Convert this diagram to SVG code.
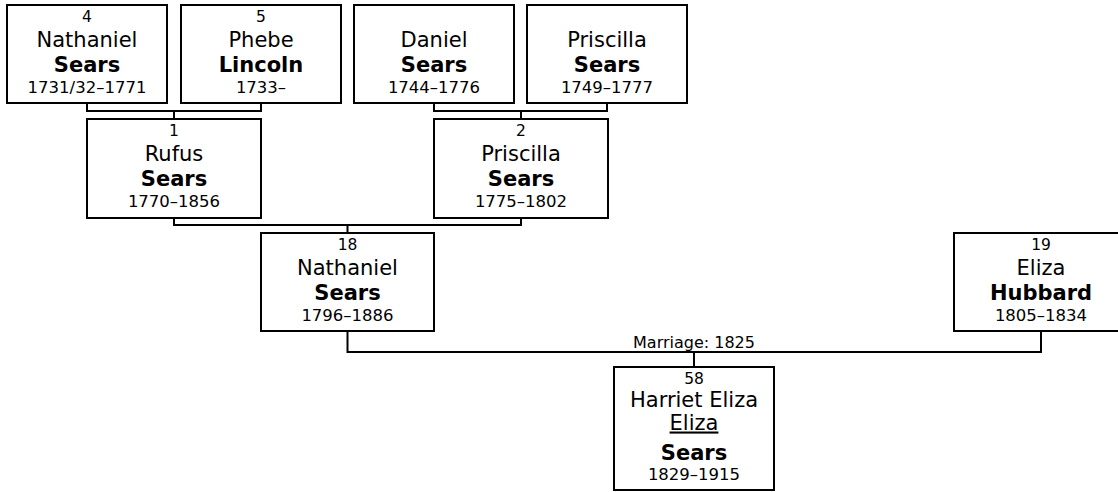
<svg xmlns="http://www.w3.org/2000/svg" width="1118" height="492" viewBox="0 0 1118 492">
<style>
  .box { fill: #fff; stroke: #000; stroke-width: 2; }
  .conn { fill: none; stroke: #000; stroke-width: 2; }
  text { font-family: "DejaVu Sans", Verdana, sans-serif; fill: #000; text-anchor: middle; }
  .num { font-size: 15.5px; }
  .given { font-size: 21px; }
  .sur { font-size: 21px; font-weight: bold; }
  .dates { font-size: 16.5px; }
  .lbl { font-size: 16px; }
</style>
<rect width="1118" height="492" fill="#fff"/>
<g id="connectors">
  <path class="conn" d="M87,103 V111 H261 V103 M174,111 V119"/>
  <path class="conn" d="M434,103 V111 H607 V103 M521,111 V119"/>
  <path class="conn" d="M174,218 V225 H521 V218 M347.5,225 V233"/>
  <path class="conn" d="M347.5,331 V352 H1041 V331 M694,352 V367"/>
  <text class="lbl" x="694" y="348">Marriage: 1825</text>
</g>
<g id="p4">
  <rect class="box" x="7" y="5" width="160" height="98"/>
  <text class="num" x="87" y="22">4</text>
  <text class="given" x="87" y="46.5">Nathaniel</text>
  <text class="sur" x="87" y="72">Sears</text>
  <text class="dates" x="87" y="92.5">1731/32–1771</text>
</g>
<g id="p5">
  <rect class="box" x="181" y="5" width="160" height="98"/>
  <text class="num" x="261" y="22">5</text>
  <text class="given" x="261" y="46.5">Phebe</text>
  <text class="sur" x="261" y="72">Lincoln</text>
  <text class="dates" x="261" y="92.5">1733–</text>
</g>
<g id="pDaniel">
  <rect class="box" x="354" y="5" width="160" height="98"/>
  <text class="given" x="434" y="46.5">Daniel</text>
  <text class="sur" x="434" y="72">Sears</text>
  <text class="dates" x="434" y="92.5">1744–1776</text>
</g>
<g id="pPriscillaSr">
  <rect class="box" x="527" y="5" width="160" height="98"/>
  <text class="given" x="607" y="46.5">Priscilla</text>
  <text class="sur" x="607" y="72">Sears</text>
  <text class="dates" x="607" y="92.5">1749–1777</text>
</g>
<g id="p1">
  <rect class="box" x="87" y="119" width="174" height="99"/>
  <text class="num" x="174" y="136">1</text>
  <text class="given" x="174" y="160.5">Rufus</text>
  <text class="sur" x="174" y="186">Sears</text>
  <text class="dates" x="174" y="206.5">1770–1856</text>
</g>
<g id="p2">
  <rect class="box" x="434" y="119" width="174" height="99"/>
  <text class="num" x="521" y="136">2</text>
  <text class="given" x="521" y="160.5">Priscilla</text>
  <text class="sur" x="521" y="186">Sears</text>
  <text class="dates" x="521" y="206.5">1775–1802</text>
</g>
<g id="p18">
  <rect class="box" x="261" y="233" width="173" height="98"/>
  <text class="num" x="347.5" y="250">18</text>
  <text class="given" x="347.5" y="274.5">Nathaniel</text>
  <text class="sur" x="347.5" y="300">Sears</text>
  <text class="dates" x="347.5" y="320.5">1796–1886</text>
</g>
<g id="p19">
  <rect class="box" x="954" y="233" width="174" height="98"/>
  <text class="num" x="1041" y="250">19</text>
  <text class="given" x="1041" y="274.5">Eliza</text>
  <text class="sur" x="1041" y="300">Hubbard</text>
  <text class="dates" x="1041" y="320.5">1805–1834</text>
</g>
<g id="p58">
  <rect class="box" x="614" y="367" width="160" height="123"/>
  <text class="num" x="694" y="384">58</text>
  <text class="given" x="694" y="407">Harriet Eliza</text>
  <text class="given" x="694" y="429.5" text-decoration="underline">Eliza</text>
  <text class="sur" x="694" y="460">Sears</text>
  <text class="dates" x="694" y="480">1829–1915</text>
</g>
</svg>
